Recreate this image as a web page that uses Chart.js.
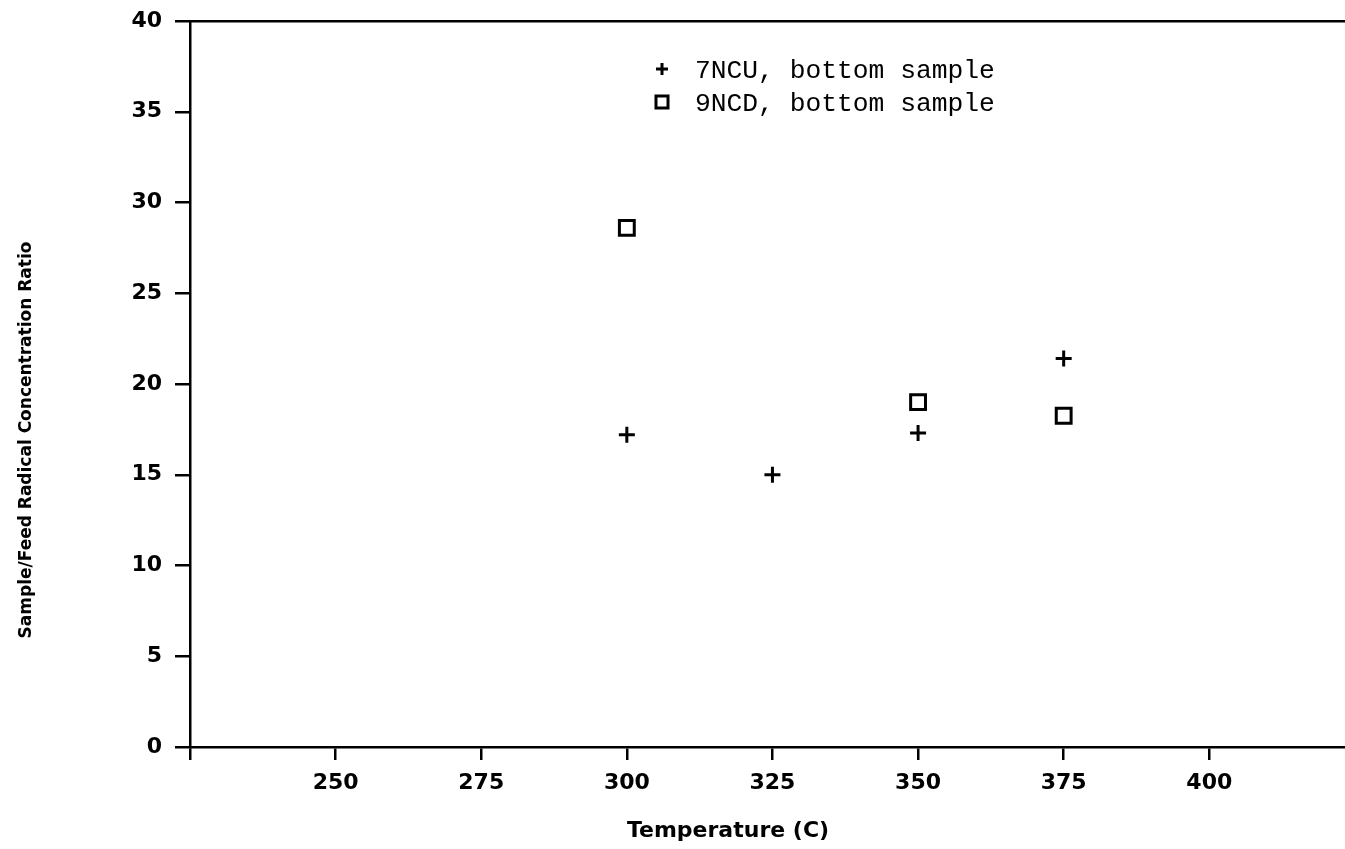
<!DOCTYPE html>
<html>
<head>
<meta charset="utf-8">
<script src="https://cdn.jsdelivr.net/npm/chart.js@4/dist/chart.umd.min.js"></script>
<style>
  html, body { margin: 0; padding: 0; background: #fff; overflow: hidden; }
  #wrap { width: 1345px; height: 849px; }
</style>
</head>
<body>
<div id="wrap"><canvas id="c" width="1345" height="849"></canvas></div>
<script>
// ---- data ----
const seriesNames = ['7NCU, bottom sample', '9NCD, bottom sample'];
const ncuTemps = [300, 325, 350, 375];
const ncuRatios = [17.2, 15.0, 17.3, 21.4];
const ncdTemps = [300, 350, 375];
const ncdRatios = [28.6, 19.0, 18.25];
const xTickValues = [225, 250, 275, 300, 325, 350, 375, 400];
const xTickLabels = ['', '250', '275', '300', '325', '350', '375', '400'];
const yTickValues = [0, 5, 10, 15, 20, 25, 30, 35, 40];
const xMin = 225, xMax = 423.3;
const yMin = 0, yMax = 40;
const xTitle = 'Temperature (C)';
const yTitle = 'Sample/Feed Radical Concentration Ratio';

const toPoints = (xs, ys) => xs.map((x, i) => ({ x: x, y: ys[i] }));

const axisFont = { family: 'DejaVu Sans', size: 22, weight: 'bold' };

const legendPlugin = {
  id: 'insideLegend',
  afterDatasetsDraw(chart) {
    const ctx = chart.ctx;
    const area = chart.chartArea;
    const mx = area.left + 472, tx = area.left + 505;
    const rows = [area.top + 48, area.top + 81];
    const legendRadius = [6, 8.5];
    ctx.save();
    ctx.font = '26.3px "Liberation Mono"';
    ctx.textBaseline = 'middle';
    ctx.textAlign = 'left';
    chart.data.datasets.forEach((ds, i) => {
      ctx.strokeStyle = '#000';
      ctx.fillStyle = 'rgba(0,0,0,0)';
      ctx.lineWidth = ds.borderWidth;
      Chart.helpers.drawPoint(ctx, { pointStyle: ds.pointStyle, radius: legendRadius[i], borderWidth: ds.borderWidth, rotation: 0 }, mx, rows[i]);
      ctx.fillStyle = '#000';
      ctx.fillText(ds.label, tx, rows[i] + 2);
    });
    ctx.restore();
  }
};

const titlePlugin = {
  id: 'axisTitles',
  afterDraw(chart) {
    const ctx = chart.ctx;
    const area = chart.chartArea;
    ctx.save();
    ctx.fillStyle = '#000';
    ctx.textAlign = 'center';
    ctx.textBaseline = 'middle';
    ctx.font = 'bold 22px "DejaVu Sans"';
    ctx.fillText(xTitle, area.left + 538, area.bottom + 84);
    ctx.translate(27, area.top + 419);
    ctx.rotate(-Math.PI / 2);
    ctx.font = 'bold 17px "DejaVu Sans"';
    ctx.fillText(yTitle, 0, 0);
    ctx.restore();
  }
};

new Chart(document.getElementById('c'), {
  type: 'scatter',
  data: {
    datasets: [
      {
        label: seriesNames[0],
        data: toPoints(ncuTemps, ncuRatios),
        pointStyle: 'cross',
        pointRadius: 8,
        borderWidth: 3,
        borderColor: '#000',
        backgroundColor: '#000'
      },
      {
        label: seriesNames[1],
        data: toPoints(ncdTemps, ncdRatios),
        pointStyle: 'rect',
        pointRadius: 10.5,
        borderWidth: 3,
        borderColor: '#000',
        backgroundColor: 'rgba(0,0,0,0)'
      }
    ]
  },
  options: {
    responsive: false,
    animation: false,
    layout: { autoPadding: false, padding: { left: 0, top: 21, right: 0, bottom: 0 } },
    plugins: {
      legend: { display: false },
      tooltip: { enabled: false }
    },
    scales: {
      x: {
        type: 'linear',
        min: xMin,
        max: xMax,
        afterBuildTicks(scale) { scale.ticks = xTickValues.map(v => ({ value: v })); },
        afterFit(scale) { scale.height = 102; scale.paddingLeft = 0; scale.paddingRight = 0; },
        grid: { drawOnChartArea: false, drawTicks: true, tickLength: 13, color: '#000', lineWidth: 2.5 },
        border: { display: true, color: '#000', width: 2.5 },
        ticks: {
          color: '#000',
          font: axisFont,
          padding: 10,
          maxRotation: 0,
          autoSkip: false,
          callback: (v) => xTickLabels[xTickValues.indexOf(v)]
        }
      },
      x2: {
        type: 'linear',
        position: 'top',
        min: xMin,
        max: xMax,
        afterFit(scale) { scale.height = 0; scale.paddingLeft = 0; scale.paddingRight = 0; },
        grid: { display: false, drawTicks: false },
        border: { display: true, color: '#000', width: 2.5 },
        ticks: { display: false }
      },
      y: {
        type: 'linear',
        min: yMin,
        max: yMax,
        afterBuildTicks(scale) { scale.ticks = yTickValues.map(v => ({ value: v })); },
        afterFit(scale) { scale.width = 190; scale.paddingTop = 0; scale.paddingBottom = 0; },
        grid: { drawOnChartArea: false, drawTicks: true, tickLength: 15, color: '#000', lineWidth: 2.5 },
        border: { display: true, color: '#000', width: 2.5 },
        ticks: { color: '#000', font: axisFont, padding: 13, autoSkip: false }
      }
    }
  },
  plugins: [legendPlugin, titlePlugin]
});
</script>
</body>
</html>
